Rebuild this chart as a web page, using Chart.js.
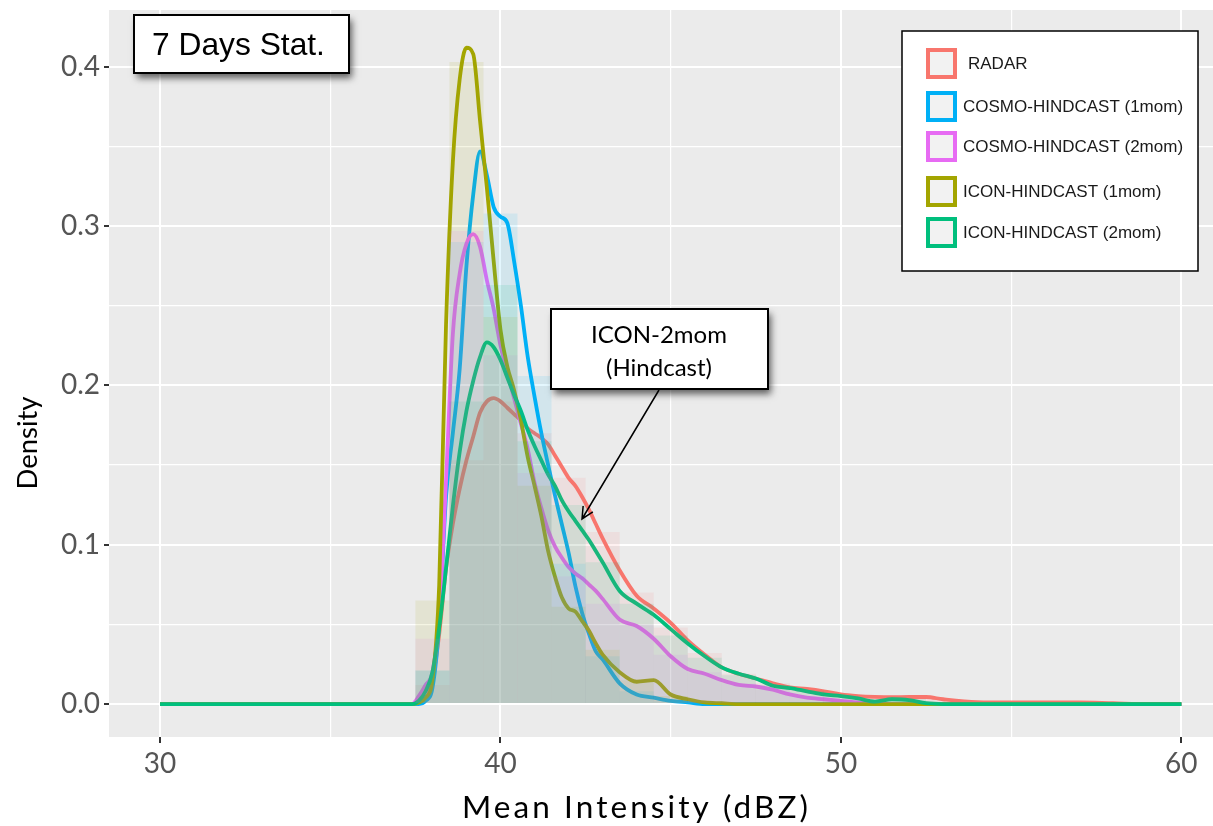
<!DOCTYPE html>
<html>
<head>
<meta charset="utf-8">
<script src="https://cdn.jsdelivr.net/npm/chart.js@4.4.1/dist/chart.umd.min.js"></script>
<style>
  html, body { margin: 0; padding: 0; background: #fff; overflow: hidden; }
  canvas { display: block; }
</style>
</head>
<body>
<canvas id="chart" width="1213" height="826"></canvas>
<script>
// --- DATA ---
const seriesNames  = ['RADAR', 'COSMO-HINDCAST (1mom)', 'COSMO-HINDCAST (2mom)', 'ICON-HINDCAST (1mom)', 'ICON-HINDCAST (2mom)'];
const seriesColors = ['#F8766D', '#00B0F6', '#E76BF3', '#A3A500', '#00BF7D'];

// x positions (dBZ) where the density curves were read
const densX = [30, 37.0, 37.4, 37.6, 37.8, 38.0, 38.2, 38.4, 38.6, 38.8, 39.0, 39.2, 39.4, 39.6, 39.8,
               40.0, 40.2, 40.4, 40.6, 40.8, 41.0, 41.2, 41.4, 41.6, 41.8, 42.0, 42.2, 42.4, 42.6, 42.8,
               43.0, 43.5, 44.0, 44.5, 45.0, 45.5, 46.0, 46.5, 47.0, 47.5, 48.0, 48.5, 49.0, 49.5,
               50.0, 50.5, 51.0, 51.5, 52.0, 52.5, 53.0, 54, 55, 56, 57, 58, 59, 60];

const radarDens  = [0, 0, 0, 0.0005, 0.003, 0.015, 0.044, 0.085, 0.113, 0.135, 0.153, 0.168, 0.183, 0.19, 0.192,
                    0.19, 0.186, 0.182, 0.178, 0.173, 0.17, 0.167, 0.163, 0.156, 0.149, 0.142, 0.137, 0.13, 0.122, 0.113,
                    0.104, 0.084, 0.068, 0.06, 0.051, 0.04, 0.031, 0.023, 0.019, 0.016, 0.013, 0.0105, 0.0095, 0.008,
                    0.006, 0.005, 0.0045, 0.0043, 0.0044, 0.0044, 0.003, 0.0012, 0.001, 0.001, 0.001, 0.0005, 0, 0];
const cosmo1Dens = [0, 0, 0, 0, 0.002, 0.01, 0.05, 0.13, 0.17, 0.21, 0.275, 0.32, 0.347, 0.332, 0.312,
                    0.306, 0.302, 0.278, 0.25, 0.218, 0.193, 0.17, 0.15, 0.131, 0.113, 0.095, 0.074, 0.057, 0.044, 0.033,
                    0.028, 0.013, 0.006, 0.004, 0.002, 0.001, 0, 0, 0, 0, 0, 0, 0, 0,
                    0, 0, 0, 0, 0, 0, 0, 0, 0, 0, 0, 0, 0, 0];
const cosmo2Dens = [0, 0, 0, 0.005, 0.012, 0.02, 0.055, 0.14, 0.232, 0.27, 0.289, 0.295, 0.287, 0.266, 0.248,
                    0.225, 0.208, 0.192, 0.176, 0.16, 0.139, 0.123, 0.109, 0.099, 0.092, 0.086, 0.082, 0.079, 0.075, 0.071,
                    0.066, 0.053, 0.049, 0.041, 0.03, 0.022, 0.019, 0.015, 0.012, 0.011, 0.009, 0.006, 0.004, 0.003,
                    0.002, 0.001, 0.0005, 0, 0, 0, 0, 0, 0, 0, 0, 0, 0, 0];
const icon1Dens  = [0, 0, 0, 0.001, 0.004, 0.015, 0.075, 0.238, 0.34, 0.392, 0.412, 0.408, 0.366, 0.324, 0.278,
                    0.235, 0.212, 0.197, 0.178, 0.155, 0.137, 0.118, 0.096, 0.08, 0.067, 0.06, 0.058, 0.052, 0.046, 0.038,
                    0.031, 0.02, 0.014, 0.015, 0.006, 0.003, 0.001, 0.0005, 0, 0, 0, 0, 0, 0,
                    0, 0, 0, 0, 0, 0, 0, 0, 0, 0, 0, 0, 0, 0];
const icon2Dens  = [0, 0, 0, 0.002, 0.008, 0.02, 0.048, 0.085, 0.124, 0.158, 0.184, 0.203, 0.218, 0.227, 0.224,
                    0.216, 0.205, 0.194, 0.184, 0.172, 0.162, 0.153, 0.144, 0.137, 0.128, 0.121, 0.115, 0.109, 0.103, 0.096,
                    0.089, 0.071, 0.063, 0.056, 0.047, 0.038, 0.03, 0.023, 0.019, 0.016, 0.0115, 0.01, 0.008, 0.006,
                    0.005, 0.0035, 0.0015, 0.003, 0.0025, 0.0005, 0, 0, 0, 0, 0, 0, 0, 0];

// histogram bins (centres, 1 dBZ wide)
const histX      = [38, 39, 40, 41, 42, 43, 44, 45, 46, 47, 48, 49, 50, 51, 52, 53, 54, 55, 56, 57];
const radarHist  = [0.012, 0.153, 0.19, 0.17, 0.142, 0.108, 0.07, 0.048, 0.032, 0.019, 0.013, 0.009, 0.006, 0.004, 0.004, 0.003, 0.001, 0.001, 0.001, 0.001];
const cosmo1Hist = [0.021, 0.29, 0.308, 0.206, 0.088, 0.03, 0.008, 0.002, 0.001, 0, 0, 0, 0, 0, 0, 0, 0, 0, 0, 0];
const cosmo2Hist = [0.041, 0.297, 0.219, 0.145, 0.08, 0.063, 0.05, 0.031, 0.02, 0.013, 0.009, 0.005, 0.002, 0.001, 0, 0, 0, 0, 0, 0];
const icon1Hist  = [0.065, 0.403, 0.243, 0.137, 0.061, 0.034, 0.015, 0.005, 0.001, 0, 0, 0, 0, 0, 0, 0, 0, 0, 0, 0];
const icon2Hist  = [0.021, 0.19, 0.263, 0.165, 0.125, 0.089, 0.063, 0.043, 0.029, 0.018, 0.012, 0.008, 0.005, 0.003, 0.003, 0.001, 0, 0, 0, 0];

const xTickVals = [30, 35, 40, 45, 50, 55, 60];
const yTickVals = [0, 0.05, 0.1, 0.15, 0.2, 0.25, 0.3, 0.35, 0.4];

const densValues = [radarDens, cosmo1Dens, cosmo2Dens, icon1Dens, icon2Dens];
const histValues = [radarHist, cosmo1Hist, cosmo2Hist, icon1Hist, icon2Hist];

// --- HELPERS ---
function rgba(hex, a) {
    const n = parseInt(hex.slice(1), 16);
    return `rgba(${(n >> 16) & 255}, ${(n >> 8) & 255}, ${n & 255}, ${a})`;
}
const isMajorX = v => Math.abs(v % 10) < 1e-6;
const isMajorY = v => Math.abs(v * 10 - Math.round(v * 10)) < 1e-6;

function fitFontSize(ctx, text, family, targetWidth) {
    ctx.font = `100px ${family}`;
    return 100 * targetWidth / ctx.measureText(text).width;
}

// draws text starting at x, stretched with letter spacing to a given width
function spacedText(ctx, text, x, y, size, family, targetWidth) {
    ctx.font = `${size}px ${family}`;
    const w = ctx.measureText(text).width;
    const sp = (targetWidth - w) / (text.length - 1);
    ctx.textAlign = 'left';
    if ('letterSpacing' in ctx) {
        ctx.letterSpacing = `${sp}px`;
        ctx.fillText(text, x, y);
        ctx.letterSpacing = '0px';
    } else {
        let cx = x;
        for (const ch of text) {
            ctx.fillText(ch, cx, y);
            cx += ctx.measureText(ch).width + sp;
        }
    }
}

function shadowBox(ctx, x, y, w, h) {
    ctx.save();
    ctx.shadowColor = 'rgba(0,0,0,0.6)';
    ctx.shadowBlur = 7;
    ctx.shadowOffsetX = 3;
    ctx.shadowOffsetY = 5;
    ctx.fillStyle = '#fff';
    ctx.fillRect(x, y, w, h);
    ctx.restore();
    ctx.strokeStyle = '#000';
    ctx.lineWidth = 2;
    ctx.strokeRect(x, y, w, h);
}

// --- DATASETS ---
const datasets = [];
seriesNames.forEach((name, i) => {
    datasets.push({
        type: 'line',
        label: name,
        data: densX.map((x, j) => ({ x: x, y: densValues[i][j] })),
        borderColor: seriesColors[i],
        borderWidth: 3.8,
        pointRadius: 0,
        fill: false,
        cubicInterpolationMode: 'monotone',
        order: 10 - i
    });
});
seriesNames.forEach((name, i) => {
    datasets.push({
        type: 'bar',
        label: name + ' hist',
        data: histX.map((x, j) => ({ x: x, y: histValues[i][j] })),
        backgroundColor: rgba(seriesColors[i], 0.105),
        borderWidth: 0,
        inflateAmount: 0,
        barPercentage: 1,
        categoryPercentage: 1,
        grouped: false,
        order: 4 - i
    });
});

// --- PANEL, ANNOTATIONS, LEGEND ---
const decor = {
    id: 'decor',
    beforeDraw(chart) {
        const { ctx, chartArea: a } = chart;
        ctx.save();
        ctx.fillStyle = '#fff';
        ctx.fillRect(0, 0, chart.width, chart.height);
        ctx.fillStyle = '#EBEBEB';
        ctx.fillRect(a.left, a.top, a.right - a.left, a.bottom - a.top);
        ctx.restore();
    },
    afterDraw(chart) {
        const ctx = chart.ctx;
        ctx.save();

        // axis titles
        ctx.fillStyle = '#000';
        ctx.textBaseline = 'alphabetic';
        spacedText(ctx, 'Mean Intensity (dBZ)', 462, 818, 31.5, 'Lato', 346);

        let fs = fitFontSize(ctx, 'Density', 'Lato', 93);
        ctx.save();
        ctx.translate(37, 443);
        ctx.rotate(-Math.PI / 2);
        ctx.font = `${fs}px Lato`;
        ctx.textAlign = 'center';
        ctx.fillText('Density', 0, 0);
        ctx.restore();

        // "7 Days Stat." box
        shadowBox(ctx, 134, 15, 215, 58);
        fs = fitFontSize(ctx, '7 Days Stat.', '"Liberation Sans", Arial', 173);
        ctx.font = `${fs}px "Liberation Sans", Arial`;
        ctx.textAlign = 'left';
        ctx.fillStyle = '#000';
        ctx.fillText('7 Days Stat.', 152, 55);

        // ICON-2mom callout box and arrow
        shadowBox(ctx, 551, 309, 217, 80);
        fs = fitFontSize(ctx, 'ICON-2mom', 'Lato', 136);
        ctx.font = `${fs}px Lato`;
        ctx.textAlign = 'center';
        ctx.fillStyle = '#000';
        ctx.fillText('ICON-2mom', 659, 343);
        ctx.fillText('(Hindcast)', 659, 376);

        const x0 = 659, y0 = 390, x1 = 582, y1 = 519;
        ctx.strokeStyle = '#000';
        ctx.lineWidth = 1.5;
        ctx.beginPath();
        ctx.moveTo(x0, y0);
        ctx.lineTo(x1, y1);
        const ang = Math.atan2(y1 - y0, x1 - x0);
        const hl = 13, ha = 0.45;
        ctx.moveTo(x1 - hl * Math.cos(ang - ha), y1 - hl * Math.sin(ang - ha));
        ctx.lineTo(x1, y1);
        ctx.lineTo(x1 - hl * Math.cos(ang + ha), y1 - hl * Math.sin(ang + ha));
        ctx.stroke();

        // legend
        ctx.fillStyle = '#fff';
        ctx.fillRect(902, 31, 296, 240);
        ctx.strokeStyle = '#000';
        ctx.lineWidth = 1.5;
        ctx.strokeRect(902, 31, 296, 240);
        const keyY = [48, 91, 131, 176, 217];
        ctx.font = '17px "Liberation Sans", Arial';
        ctx.textAlign = 'left';
        ctx.textBaseline = 'middle';
        seriesNames.forEach((name, i) => {
            ctx.fillStyle = '#F2F2F2';
            ctx.fillRect(926, keyY[i], 31, 31);
            ctx.strokeStyle = seriesColors[i];
            ctx.lineWidth = 4;
            ctx.strokeRect(928, keyY[i] + 2, 27, 27);
            ctx.fillStyle = '#1a1a1a';
            ctx.fillText(name, i === 0 ? 968 : 963, keyY[i] + 16);
        });

        ctx.restore();
    }
};

function noPadding(s) {
    s.paddingTop = 0;
    s.paddingBottom = 0;
    s.paddingLeft = 0;
    s.paddingRight = 0;
}

// --- CHART ---
new Chart(document.getElementById('chart'), {
    type: 'line',
    data: { datasets: datasets },
    options: {
        responsive: false,
        animation: false,
        layout: { padding: { top: 10, left: 0, right: 0, bottom: 0 } },
        plugins: { legend: { display: false }, tooltip: { enabled: false } },
        scales: {
            x: {
                type: 'linear',
                min: 28.5,
                max: 60.93,
                offset: false,
                afterBuildTicks: s => { s.ticks = xTickVals.map(v => ({ value: v })); },
                afterFit: s => { s.height = 89; noPadding(s); },
                border: { display: false },
                grid: {
                    offset: false,
                    color: '#fff',
                    lineWidth: c => isMajorX(c.tick.value) ? 2 : 1.2,
                    tickLength: 6,
                    tickColor: c => isMajorX(c.tick.value) ? '#333' : 'rgba(0,0,0,0)',
                    tickWidth: 2
                },
                ticks: {
                    autoSkip: false,
                    maxRotation: 0,
                    padding: 4,
                    color: '#555',
                    font: { family: 'Lato', size: 28 },
                    callback: v => isMajorX(v) ? String(v) : ''
                }
            },
            y: {
                type: 'linear',
                min: -0.0207,
                max: 0.4357,
                afterBuildTicks: s => { s.ticks = yTickVals.map(v => ({ value: v })); },
                afterFit: s => { s.width = 109; noPadding(s); },
                border: { display: false },
                grid: {
                    color: '#fff',
                    lineWidth: c => isMajorY(c.tick.value) ? 2 : 1.2,
                    tickLength: 5,
                    tickColor: c => isMajorY(c.tick.value) ? '#333' : 'rgba(0,0,0,0)',
                    tickWidth: 2
                },
                ticks: {
                    autoSkip: false,
                    padding: 4,
                    color: '#555',
                    font: { family: 'Lato', size: 28 },
                    callback: v => isMajorY(v) ? v.toFixed(1) : ''
                }
            }
        }
    },
    plugins: [decor]
});
</script>
</body>
</html>
